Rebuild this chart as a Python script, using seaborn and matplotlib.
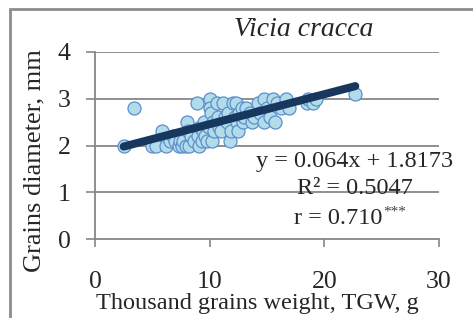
import matplotlib
matplotlib.use("Agg")
import matplotlib.pyplot as plt
import seaborn as sns
import numpy as np
import pandas as pd
from matplotlib.patches import Rectangle

# Data
tgw = [2.5, 3.4, 5.0, 5.3, 5.8, 6.2, 6.5, 6.8, 7.0, 7.3, 7.4, 7.6, 7.7, 7.9, 8.0, 8.1,
       8.2, 8.4, 8.6, 8.9, 9.0, 9.1, 9.2, 9.3, 9.4, 9.5, 9.6, 9.8, 9.9, 10.0, 10.0,
       10.1, 10.2, 10.3, 10.4, 10.6, 10.7, 10.8, 11.0, 11.2, 11.3, 11.5, 11.6, 11.8,
       11.9, 12.0, 12.2, 12.3, 12.4, 12.5, 12.6, 12.8, 12.9, 13.0, 13.2, 13.5, 13.7,
       13.9, 14.2, 14.4, 14.7, 14.7, 15.0, 15.3, 15.5, 15.7, 15.9, 16.2, 16.7, 16.9,
       18.5, 18.6, 19.0, 19.3, 22.7]
diameter = [2.0, 2.8, 2.0, 2.0, 2.3, 2.0, 2.1, 2.2, 2.1, 2.0, 2.1, 2.0, 2.1, 2.0, 2.5, 2.3,
            2.0, 2.2, 2.1, 2.9, 2.2, 2.0, 2.4, 2.1, 2.3, 2.5, 2.2, 2.1, 2.4, 3.0, 2.8,
            2.7, 2.1, 2.5, 2.3, 2.9, 2.6, 2.4, 2.3, 2.9, 2.6, 2.5, 2.7, 2.1,
            2.3, 2.9, 2.6, 2.9, 2.5, 2.3, 2.7, 2.8, 2.5, 2.6, 2.8, 2.7, 2.5,
            2.6, 2.9, 2.7, 3.0, 2.5, 2.8, 2.6, 3.0, 2.5, 2.9, 2.8, 3.0, 2.8,
            2.9, 3.0, 2.9, 3.0, 3.1]
slope = 0.064
intercept = 1.8173
fit_x = [2.5, 22.7]
x_ticks = [0, 10, 20, 30]
y_ticks = [0, 1, 2, 3, 4]
eq_lines = ["y = 0.064x + 1.8173", "R\u00b2 = 0.5047", "r = 0.710"]
signif = "***"

df = pd.DataFrame({"TGW": tgw, "Diameter": diameter})
fit_df = pd.DataFrame({"x": fit_x, "y": [slope * v + intercept for v in fit_x]})

sns.set_theme(style="white")
plt.rcParams["font.family"] = ["Liberation Serif", "DejaVu Serif"]

fig = plt.figure(figsize=(4.73, 3.18), dpi=100)
ax = fig.add_axes([95 / 473, 1 - 239 / 318, (439 - 95) / 473, (239 - 52) / 318])

# outer frame
fig.patches.append(Rectangle((10 / 473, -0.05), 1.2, (318 - 9) / 318 + 0.05,
                             transform=fig.transFigure, fill=False,
                             edgecolor="#8c8c8c", linewidth=2.0))

for yv in y_ticks[1:]:
    ax.axhline(yv, color="#878787", linewidth=1.3, zorder=0)

sns.scatterplot(data=df, x="TGW", y="Diameter", ax=ax, s=88,
                color="#b3dcea", edgecolor="#5b8fcc", linewidth=0.9, zorder=3)
sns.lineplot(data=fit_df, x="x", y="y", ax=ax, color="#17375e", linewidth=5.8,
             solid_capstyle="round", zorder=4)

ax.set_xlim(0, 30)
ax.set_ylim(0, 4)
ax.set_xticks(x_ticks)
ax.set_yticks(y_ticks)
ax.set_xticklabels([str(v) for v in x_ticks], fontsize=18.5)
ax.set_yticklabels([str(v) for v in y_ticks], fontsize=18.5)
ax.tick_params(axis="x", direction="out", length=6, width=1.2, color="#878787", pad=17)
ax.tick_params(axis="y", direction="out", length=6.5, width=1.2, color="#878787", pad=11)
ax.tick_params(bottom=True, left=True)

for side in ["top", "right"]:
    ax.spines[side].set_visible(False)
for side in ["left", "bottom"]:
    ax.spines[side].set_color("#878787")
    ax.spines[side].set_linewidth(1.3)

ax.set_xlabel("Thousand grains weight, TGW, g", fontsize=17.5, va="center")
ax.set_ylabel("Grains diameter, mm", fontsize=19, va="center")
ax.xaxis.set_label_coords((257 - 95) / 344, -(303 - 239) / 187)
ax.yaxis.set_label_coords(-(95 - 34) / 344, (239 - 161) / 187)

fig.text(304 / 473, 1 - 30 / 318, "Vicia cracca", fontsize=20, style="italic",
         ha="center", va="center")

fig.text(355 / 473, 1 - 162 / 318, eq_lines[0], fontsize=17.5, ha="center", va="center")
fig.text(355 / 473, 1 - 189 / 318, eq_lines[1], fontsize=17.5, ha="center", va="center")
fig.text(382 / 473, 1 - 218 / 318, eq_lines[2], fontsize=17.5, ha="right", va="center")
fig.text(383 / 473, 1 - 212 / 318, signif, fontsize=11, ha="left", va="center",
         color="#444444")

fig.savefig("out.png", dpi=100)
